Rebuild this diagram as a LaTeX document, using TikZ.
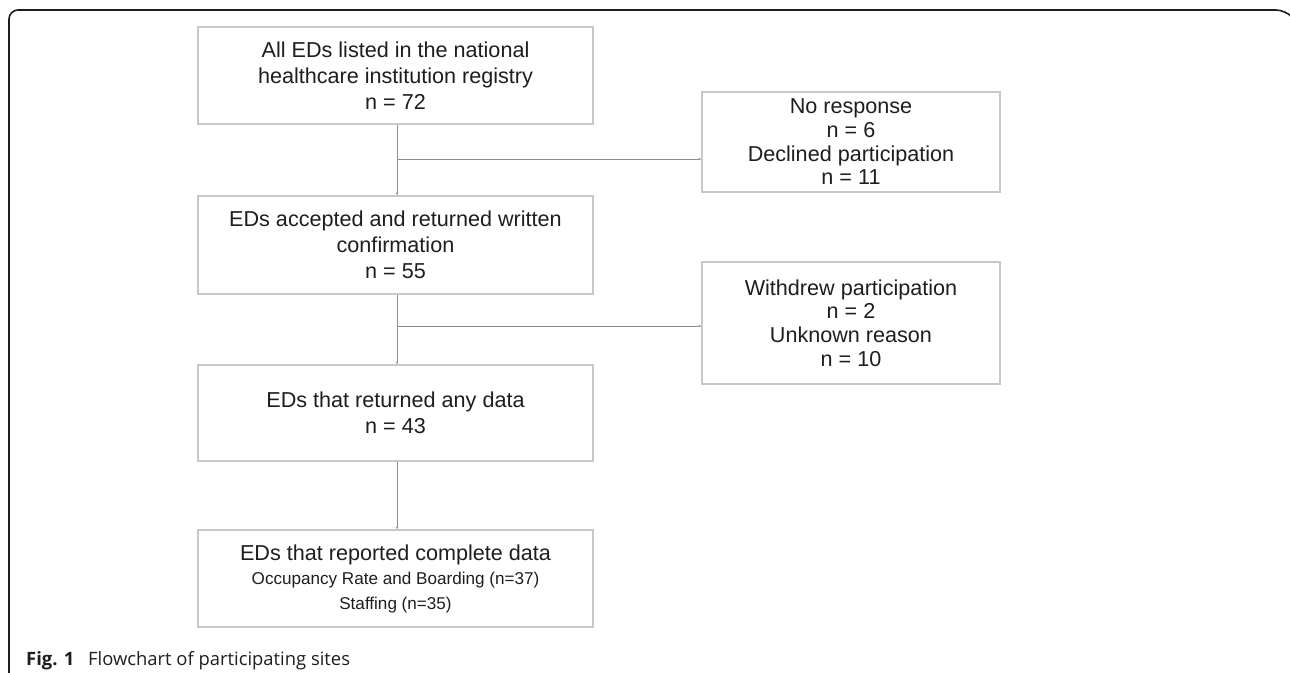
\documentclass[tikz,border=0pt]{standalone}
\usepackage{fontspec}
\setmainfont{Liberation Sans}
\newfontfamily\capfont{Open Sans}
\usetikzlibrary{arrows.meta}
\definecolor{boxgray}{HTML}{C8C8C8}
\definecolor{linegray}{HTML}{8C8C8C}
\definecolor{txt}{HTML}{1E1E1E}
\tikzset{
  flowbox/.style={draw=boxgray, line width=1.3pt, fill=white, inner sep=0pt, align=center, text=txt,
    font=\fontsize{21.6}{26}\selectfont},
  sidebox/.style={flowbox, font=\fontsize{21.6}{23.7}\selectfont},
  conn/.style={draw=linegray, line width=0.9pt, -{Latex[length=2.5pt,width=2.5pt]}},
  plain/.style={draw=linegray, line width=0.9pt}
}
\begin{document}
\begin{tikzpicture}[x=1pt,y=-1pt]
\useasboundingbox (0,0) rectangle (1290,672);
% outer frame
\draw[line width=1.6pt, color=txt, rounded corners=9pt] (9,675) -- (9,10) -- (1285,10) -- (1290,15);
% main boxes
\node[flowbox, minimum width=395pt, minimum height=97pt] (b1) at (395.5,75.5)
  {All EDs listed in the national\\healthcare institution registry\\n = 72};
\node[flowbox, minimum width=395pt, minimum height=98pt] (b2) at (395.5,245)
  {EDs accepted and returned written\\confirmation\\n = 55};
\node[flowbox, minimum width=395pt, minimum height=96pt] (b3) at (395.5,413)
  {EDs that returned any data\\n = 43};
\node[flowbox, minimum width=395pt, minimum height=97pt] (b4) at (395.5,578.5)
  {EDs that reported complete data\\[-2pt]
   {\fontsize{17.1}{21}\selectfont Occupancy Rate and Boarding (n=37)}\\[-1pt]
   {\fontsize{17.1}{21}\selectfont Staffing (n=35)}};
% side boxes
\node[sidebox, minimum width=298pt, minimum height=100pt] (s1) at (851,142)
  {No response\\n = 6\\Declined participation\\n = 11};
\node[sidebox, minimum width=298pt, minimum height=122pt] (s2) at (851,323)
  {Withdrew participation\\n = 2\\Unknown reason\\n = 10};
% connectors
\coordinate (j1) at (397,159);
\coordinate (j2) at (397,326);
\draw[conn] (b1.south -| j1) -- (b2.north -| j1);
\draw[conn] (b2.south -| j2) -- (b3.north -| j2);
\draw[conn] (b3.south -| j2) -- (b4.north -| j2);
\draw[conn] (j1) -- (j1 -| s1.west);
\draw[conn] (j2) -- (j2 -| s2.west);
% caption
\node[anchor=base west, inner sep=0pt, text=txt, font=\capfont\fontsize{18.4}{22}\selectfont] (cap) at (26,665)
  {\textbf{Fig. 1}\hspace{0.75em}Flowchart of participating sites};
\end{tikzpicture}
\end{document}
